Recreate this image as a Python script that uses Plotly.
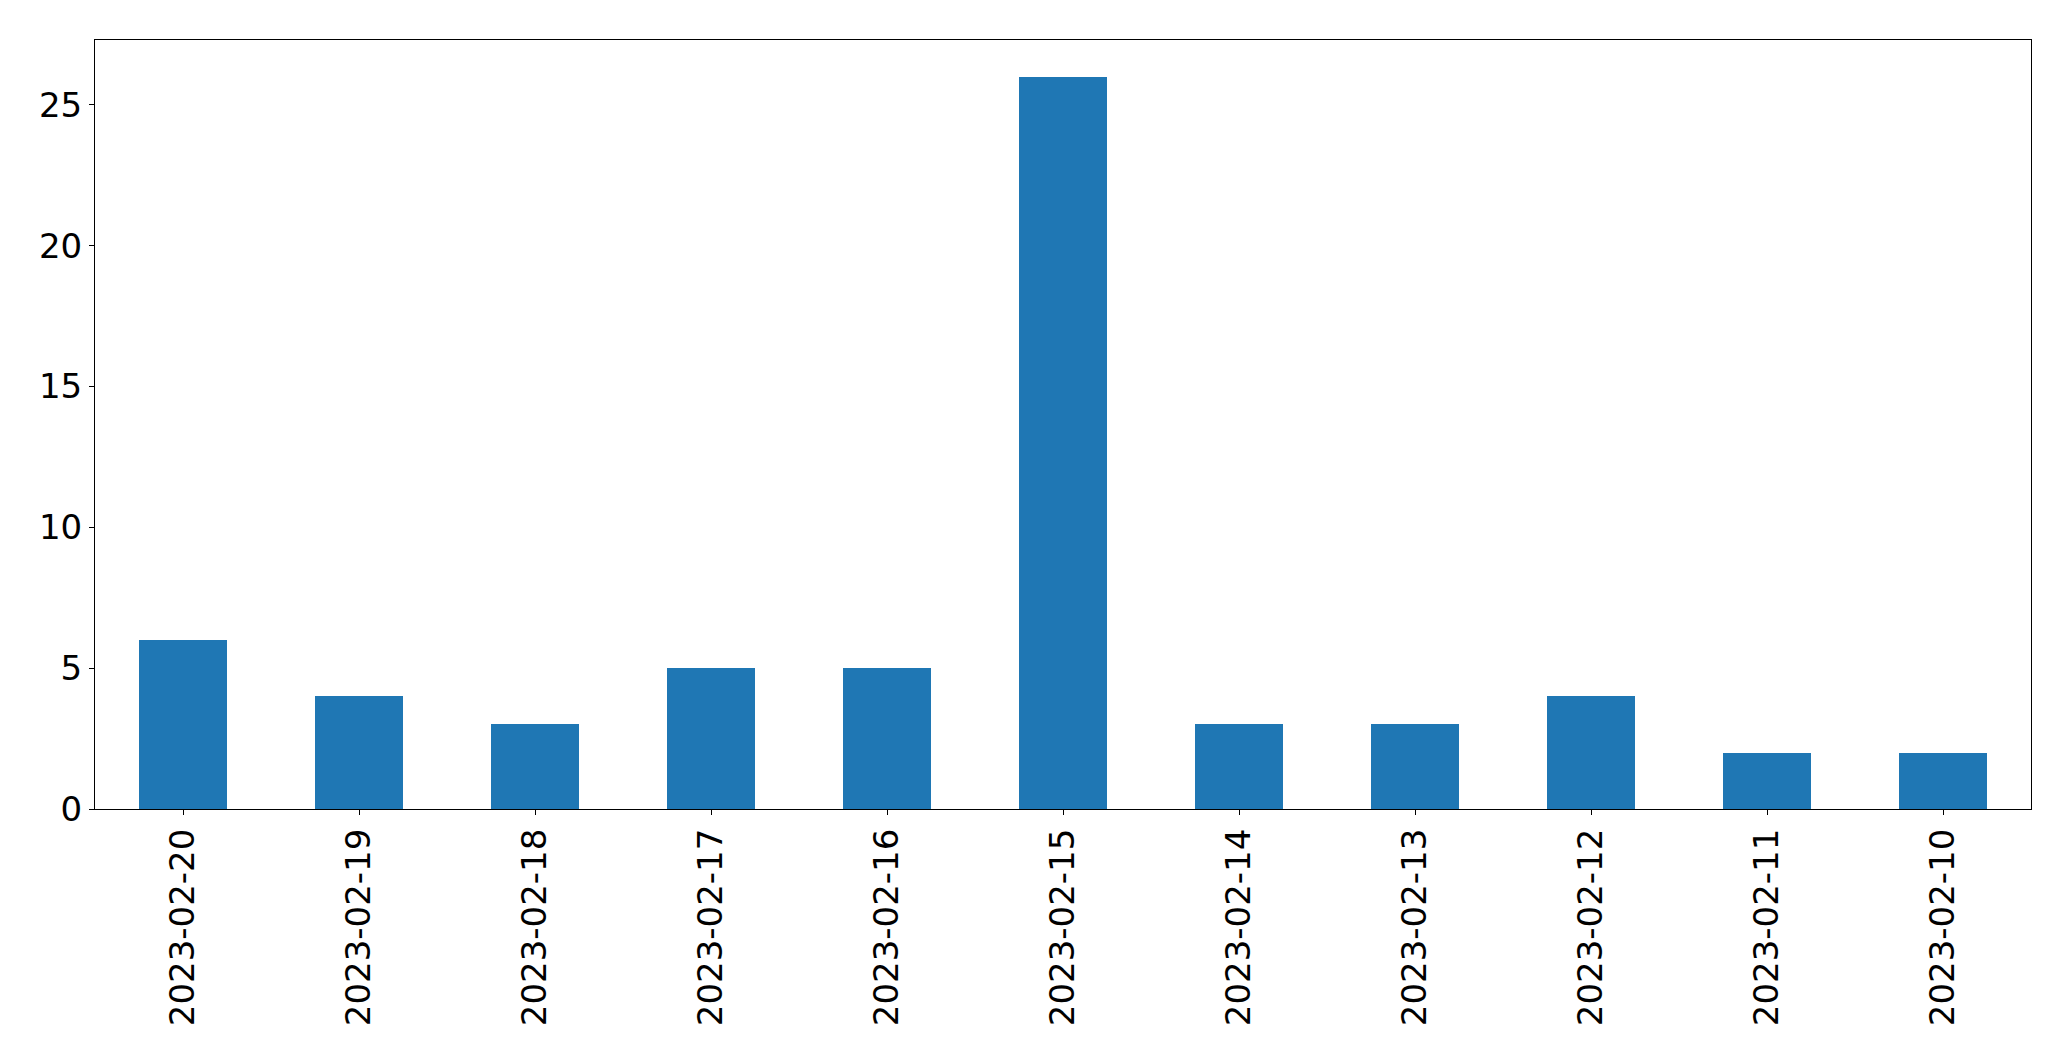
import plotly.graph_objects as go

dates = ["2023-02-20", "2023-02-19", "2023-02-18", "2023-02-17", "2023-02-16",
         "2023-02-15", "2023-02-14", "2023-02-13", "2023-02-12", "2023-02-11", "2023-02-10"]
counts = [6, 4, 3, 5, 5, 26, 3, 3, 4, 2, 2]
y_ticks = [0, 5, 10, 15, 20, 25]

fig = go.Figure(go.Bar(x=list(range(len(dates))), y=counts, width=0.5,
                       marker=dict(color="#1f77b4", line=dict(width=0))))

font = dict(family="DejaVu Sans", size=34, color="black")
fig.update_layout(
    width=2063, height=1053,
    margin=dict(l=86.5, r=40, t=31.5, b=252, pad=0),
    plot_bgcolor="white", paper_bgcolor="white",
    showlegend=False, font=font,
    bargap=0,
)
fig.update_xaxes(
    range=[-0.5, len(dates) - 0.5],
    tickmode="array", tickvals=list(range(len(dates))), ticktext=dates,
    tickangle=-90, ticks="outside", ticklen=5, tickwidth=1.1, tickcolor="black",
    showline=True, linecolor="black", linewidth=1.1, mirror=True,
    showgrid=False, zeroline=False, tickfont=font,
)
fig.update_yaxes(
    range=[0, 27.3],
    tickmode="array", tickvals=y_ticks,
    ticks="outside", ticklen=5, tickwidth=1.1, tickcolor="black",
    showline=True, linecolor="black", linewidth=1.1, mirror=True,
    showgrid=False, zeroline=False, tickfont=font,
)
fig.write_html("out.html")
